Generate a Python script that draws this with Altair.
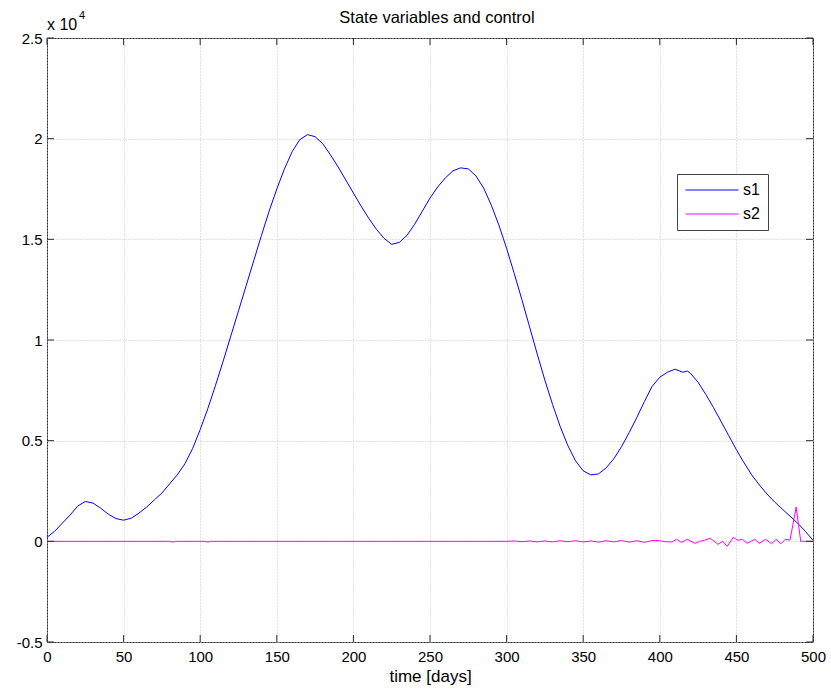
import altair as alt
import pandas as pd

# ---- data -------------------------------------------------------------
s1_day = list(range(0, 420, 5)) + [418] + list(range(420, 505, 5))
s1_val = [
    200, 500, 900, 1300, 1750, 1980, 1900, 1650, 1350, 1130,
    1050, 1150, 1400, 1700, 2050, 2400, 2850, 3300, 3850, 4600,
    5550, 6600, 7750, 8950, 10200, 11450, 12700, 13950, 15200, 16400,
    17500, 18500, 19350, 19950, 20200, 20100, 19750, 19200, 18600, 17950,
    17300, 16650, 16050, 15500, 15050, 14750, 14850, 15200, 15750, 16400,
    17050, 17600, 18050, 18400, 18550, 18500, 18150, 17550, 16700, 15700,
    14550, 13300, 12000, 10650, 9300, 8000, 6800, 5700, 4750, 4000,
    3500, 3300, 3350, 3650, 4100, 4700, 5400, 6150, 6950, 7700,
    8150, 8400, 8550, 8400, 8460, 8350, 7900, 7300, 6650, 5950, 5250,
    4550, 3900, 3300, 2800, 2350, 1950, 1600, 1250, 900, 500, 50,
]

s2_day = [0, 80, 82, 84, 103, 105, 107,
          300, 305, 310, 315, 320, 325, 330, 335, 340, 345, 350,
          355, 360, 365, 370, 375, 380, 385, 390, 395, 400,
          404, 408, 411, 414, 418, 423, 426, 429, 433, 438,
          441, 444, 448, 451, 454, 457, 462, 465, 469, 473,
          476, 479, 482, 485, 489, 492, 500]
s2_val = [0, 0, -40, 0, 0, -40, 0,
          0, 20, -20, 20, -30, 20, -30, 30, -20, 30, -30,
          20, -40, 30, -30, 40, -40, 30, -50, 40, 30,
          -20, -30, 100, -50, 100, -100, 0, 50, 150, -150,
          0, -250, 200, 50, 100, -100, 100, -100, 100, -120,
          100, -120, 100, 60, 1700, 0, 0]

series_names = ["s1", "s2"]
series_colors = ["#0000ff", "#ff00ff"]

x_ticks = list(range(0, 501, 50))
y_ticks = list(range(-5000, 25001, 5000))

W, H = 766, 604
FONT = "Liberation Sans"

df = pd.concat([
    pd.DataFrame({"day": s1_day, "value": s1_val, "series": "s1"}),
    pd.DataFrame({"day": s2_day, "value": s2_val, "series": "s2"}),
], ignore_index=True)

x_scale = alt.Scale(domain=[0, 500], nice=False, zero=False)
y_scale = alt.Scale(domain=[-5000, 25000], nice=False, zero=False)

lines = alt.Chart(df).mark_line(strokeWidth=1, interpolate="linear").encode(
    x=alt.X("day:Q", scale=x_scale, title="time [days]",
            axis=alt.Axis(values=x_ticks, format="d")),
    y=alt.Y("value:Q", scale=y_scale, title=None,
            axis=alt.Axis(values=y_ticks, labelExpr="datum.value / 10000 + ''")),
    color=alt.Color("series:N",
                    scale=alt.Scale(domain=series_names, range=series_colors),
                    legend=alt.Legend(
                        title=None, orient="none", legendX=630, legendY=136,
                        direction="vertical",
                        symbolType="stroke", symbolSize=2809, symbolStrokeWidth=1,
                        clipHeight=16, rowPadding=8, labelOffset=4,
                        labelFontSize=16, labelFont=FONT, labelColor="black",
                        padding=8, strokeColor="#444444", fillColor="white",
                    )),
    detail="series:N",
)

# inward tick marks on all four sides of the box
xt = pd.DataFrame({"t": x_ticks})
yt = pd.DataFrame({"t": y_ticks})
tick_style = dict(color="#262626", strokeWidth=1)
x_bot = alt.Chart(xt).mark_rule(**tick_style).encode(
    x=alt.X("t:Q", scale=x_scale), y=alt.value(H), y2=alt.value(H - 7))
x_top = alt.Chart(xt).mark_rule(**tick_style).encode(
    x=alt.X("t:Q", scale=x_scale), y=alt.value(0), y2=alt.value(7))
y_left = alt.Chart(yt).mark_rule(**tick_style).encode(
    y=alt.Y("t:Q", scale=y_scale), x=alt.value(0), x2=alt.value(7))
y_right = alt.Chart(yt).mark_rule(**tick_style).encode(
    y=alt.Y("t:Q", scale=y_scale), x=alt.value(W), x2=alt.value(W - 7))

# chart title and the axis multiplier "x 10^4" above the y axis
title = alt.Chart(pd.DataFrame({"s": ["State variables and control"]})).mark_text(
    font=FONT, fontSize=16.5, align="center", baseline="middle", color="black"
).encode(text="s:N", x=alt.value(390), y=alt.value(-20))
mult = alt.Chart(pd.DataFrame({"s": ["x 10"]})).mark_text(
    font=FONT, fontSize=16, align="left", baseline="middle", color="black"
).encode(text="s:N", x=alt.value(0), y=alt.value(-13))
expo = alt.Chart(pd.DataFrame({"s": ["4"]})).mark_text(
    font=FONT, fontSize=11, align="left", baseline="middle", color="black"
).encode(text="s:N", x=alt.value(32), y=alt.value(-22))

chart = alt.layer(lines, x_bot, x_top, y_left, y_right, title, mult, expo).properties(
    width=W, height=H,
    autosize=alt.AutoSizeParams(type="none"),
    padding={"left": 47, "top": 38, "right": 18, "bottom": 48},
).configure_view(
    stroke="#262626", strokeWidth=1,
).configure_axis(
    grid=True, gridColor="#c4c4c4", gridDash=[1, 2], gridWidth=1,
    ticks=False, domain=False, labelFlush=False,
    labelFont=FONT, labelFontSize=15, labelColor="black",
    titleFont=FONT, titleFontSize=17, titleFontWeight="normal", titleColor="black",
).configure_axisX(
    labelPadding=7, titlePadding=4,
).configure_axisY(
    labelPadding=5,
)

chart.save("out.html", embed_options={"renderer": "svg", "actions": False})
